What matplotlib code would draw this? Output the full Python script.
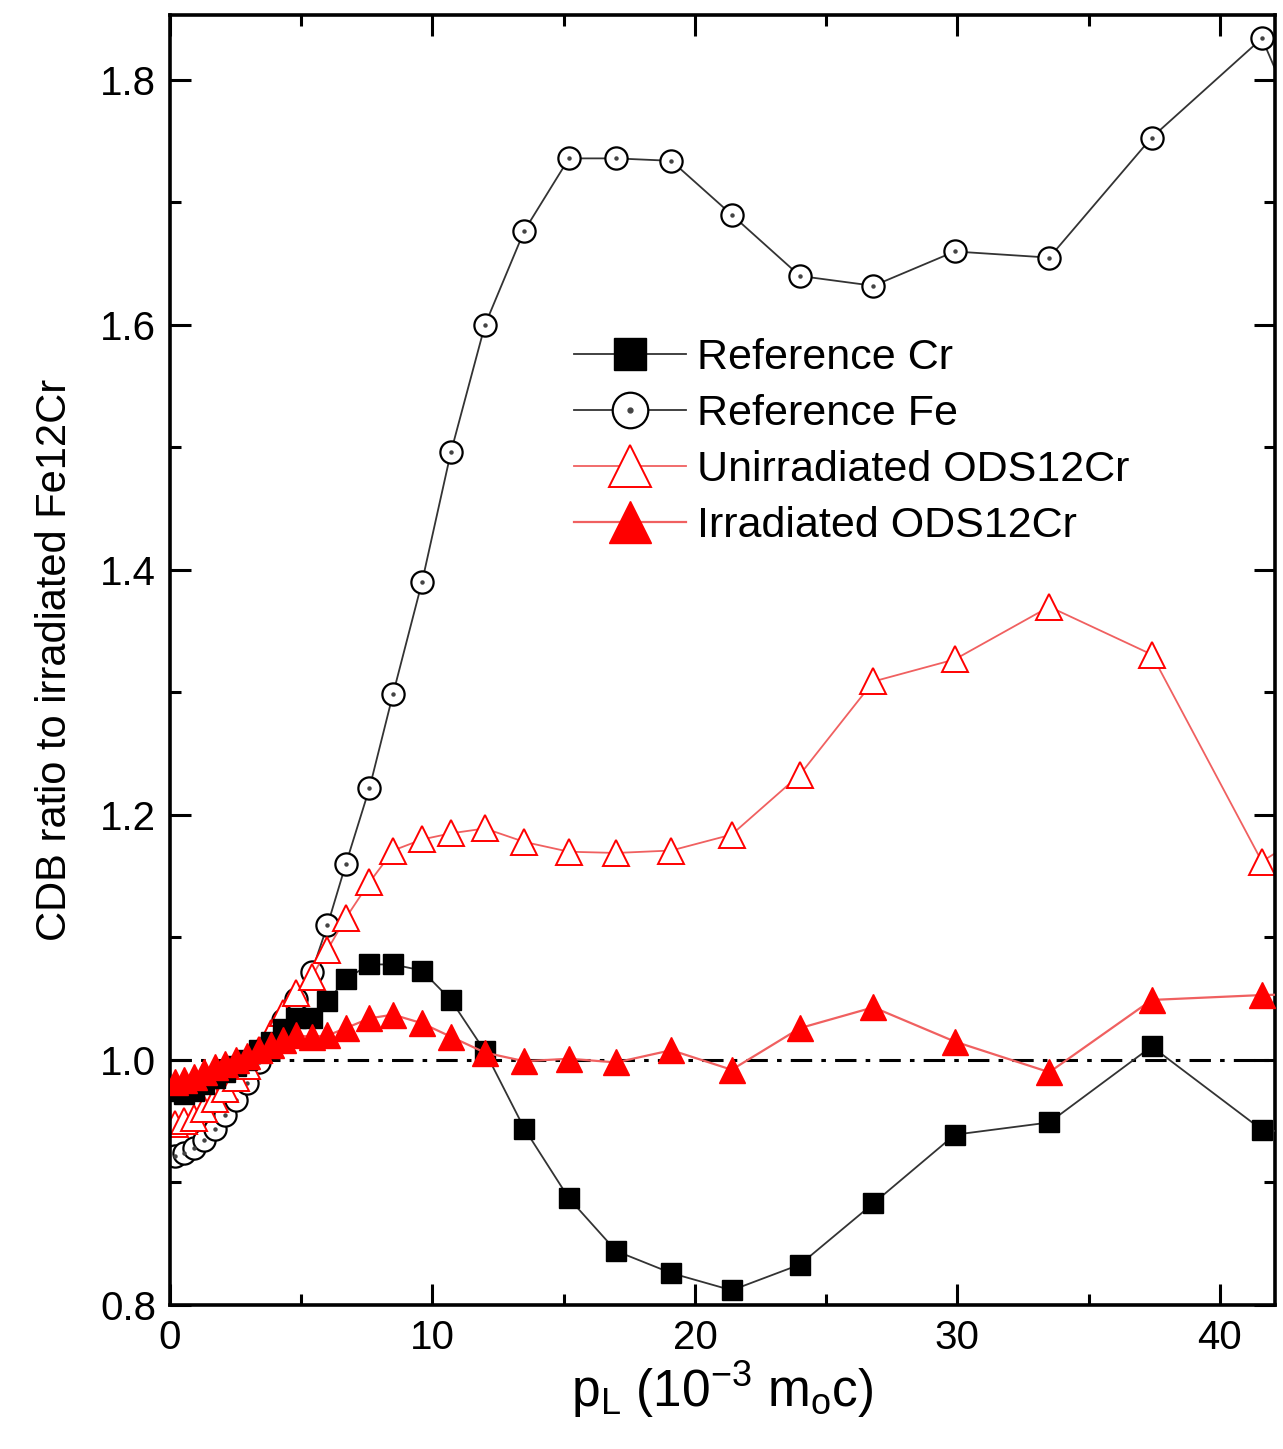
import matplotlib
matplotlib.use("Agg")
import matplotlib.pyplot as plt
from matplotlib.ticker import MultipleLocator

plt.rcParams['font.family'] = ['Liberation Sans', 'DejaVu Sans']
plt.rcParams['mathtext.fontset'] = 'custom'
plt.rcParams['mathtext.rm'] = 'Liberation Sans'
plt.rcParams['mathtext.it'] = 'Liberation Sans'

# momentum grid (10^-3 m0c); last point lies just outside the axes
p_l = [0.2, 0.55, 0.9, 1.3, 1.7, 2.1, 2.5, 2.95, 3.4, 3.85, 4.3, 4.8, 5.4, 6.0,
       6.7, 7.6, 8.5, 9.6, 10.7, 12.0, 13.5, 15.2, 17.0, 19.1, 21.4, 24.0,
       26.8, 29.9, 33.5, 37.4, 41.6, 45.9]

ref_cr = [0.975, 0.972, 0.975, 0.980, 0.985, 0.990, 0.995, 1.000, 1.008, 1.015,
          1.025, 1.034, 1.034, 1.048, 1.066, 1.078, 1.078, 1.073, 1.049, 1.007,
          0.944, 0.887, 0.844, 0.826, 0.812, 0.833, 0.883, 0.939, 0.949, 1.011,
          0.943, 0.935]

ref_fe = [0.922, 0.924, 0.928, 0.935, 0.944, 0.955, 0.967, 0.981, 0.998, 1.015,
          1.033, 1.050, 1.072, 1.110, 1.160, 1.222, 1.299, 1.390, 1.496, 1.600,
          1.677, 1.736, 1.736, 1.734, 1.690, 1.640, 1.632, 1.660, 1.655, 1.753,
          1.834, 1.620]

unirr_ods = [0.948, 0.950, 0.953, 0.960, 0.968, 0.976, 0.985, 0.995, 1.008, 1.022,
             1.038, 1.055, 1.068, 1.090, 1.116, 1.145, 1.171, 1.180, 1.185, 1.189,
             1.178, 1.170, 1.169, 1.171, 1.184, 1.233, 1.309, 1.327, 1.370, 1.331,
             1.162, 1.220]

irr_ods = [0.982, 0.984, 0.986, 0.990, 0.994, 0.997, 1.000, 1.003, 1.008, 1.012,
           1.016, 1.020, 1.019, 1.020, 1.026, 1.034, 1.037, 1.030, 1.019, 1.006,
           0.999, 1.001, 0.998, 1.008, 0.992, 1.026, 1.043, 1.015, 0.990, 1.049,
           1.053, 1.055]

fig = plt.figure(figsize=(12.83, 14.49), dpi=100)
ax = fig.add_axes([0.1325, 0.0994, 0.8613, 0.8902])

red = '#ff0000'
line_red = '#f06060'

# reference line at ratio 1
ax.axhline(1.0, color='black', lw=2.2, ls=(0, (7, 3, 1.5, 3)), zorder=1)

h_cr, = ax.plot(p_l, ref_cr, color='#333333', lw=1.3, marker='s', ms=14.5,
                mfc='black', mec='black', zorder=3)
h_fe, = ax.plot(p_l, ref_fe, color='#333333', lw=1.3, marker='o', ms=16,
                mfc='white', mec='black', mew=1.6, zorder=2)
h_fe_dot, = ax.plot(p_l, ref_fe, ls='none', marker='o', ms=2.2,
                    mfc='#444444', mec='#444444', zorder=2.1)
h_un, = ax.plot(p_l, unirr_ods, color=line_red, lw=1.3, marker='^', ms=19,
                mfc='white', mec=red, mew=1.4, zorder=2.5)
h_ir, = ax.plot(p_l, irr_ods, color=line_red, lw=1.6, marker='^', ms=19,
                mfc=red, mec=red, zorder=4)

ax.set_xlim(0, 42.1)
ax.set_ylim(0.8, 1.853)
ax.xaxis.set_major_locator(MultipleLocator(10))
ax.xaxis.set_minor_locator(MultipleLocator(5))
ax.yaxis.set_major_locator(MultipleLocator(0.2))
ax.yaxis.set_minor_locator(MultipleLocator(0.1))
ax.yaxis.set_major_formatter(plt.FormatStrFormatter('%.1f'))

ax.tick_params(which='both', direction='in', top=True, right=True)
ax.tick_params(which='major', length=15, width=2.2, labelsize=29, pad=10)
ax.tick_params(which='minor', length=8, width=2.2)
for s in ax.spines.values():
    s.set_linewidth(2.6)

ax.set_xlabel(r'p$_{\rm L}$ (10$^{-3}$ m$_{\rm o}$c)', fontsize=37, labelpad=2)
ax.set_ylabel('CDB ratio to irradiated Fe12Cr', fontsize=30, labelpad=18)

ax.legend([h_cr, (h_fe, h_fe_dot), h_un, h_ir],
          ['Reference Cr', 'Reference Fe', 'Unirradiated ODS12Cr',
           'Irradiated ODS12Cr'],
          loc='upper left', bbox_to_anchor=(0.35, 0.763), frameon=False,
          fontsize=31, handlelength=2.6, handletextpad=0.25, markerscale=1.6,
          labelspacing=0.37, borderaxespad=0)

fig.savefig('out.png', dpi=100)
